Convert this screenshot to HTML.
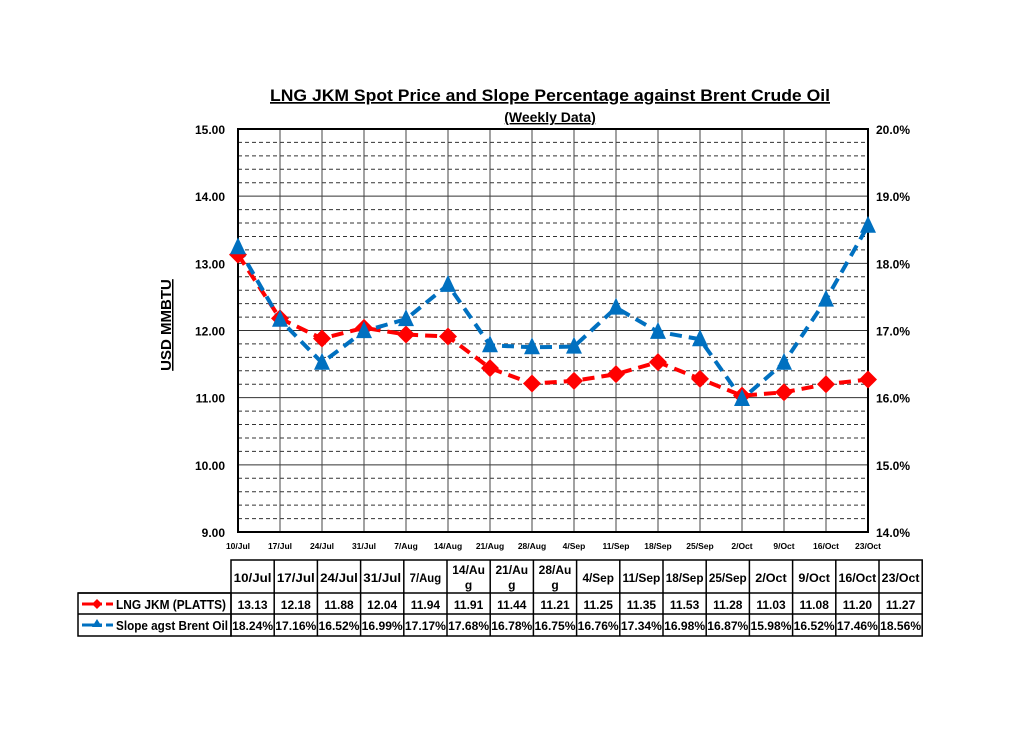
<!DOCTYPE html><html><head><style>body{margin:0;background:#fff}svg text{font-family:"Liberation Sans",Arial,sans-serif;font-weight:bold}</style></head><body>
<svg width="1024" height="724" xmlns="http://www.w3.org/2000/svg">
<text x="550" y="101" font-size="17" text-anchor="middle" text-decoration="underline" textLength="560" lengthAdjust="spacingAndGlyphs">LNG JKM Spot Price and Slope Percentage against Brent Crude Oil</text>
<text x="550" y="122" font-size="14" text-anchor="middle" text-decoration="underline">(Weekly Data)</text>
<text transform="translate(171,325) rotate(-90)" font-size="15" text-anchor="middle" text-decoration="underline">USD MMBTU</text>
</svg>
<script>
const s=document.querySelector('svg'),NS='http://www.w3.org/2000/svg';
function el(t,a,txt){const e=document.createElementNS(NS,t);for(const k in a)e.setAttribute(k,a[k]);if(txt!=null)e.textContent=txt;s.appendChild(e);return e;}
const L=238,R=868,T=129,B=532,dx=42;
const yP=v=>B-(v-9)*(B-T)/6, yS=v=>B-(v-14)*(B-T)/6;
for(let i=1;i<30;i++){if(i%5==0)continue;const y=T+i*(B-T)/30;el('line',{x1:L,x2:R,y1:y,y2:y,stroke:'#333','stroke-width':1,'stroke-dasharray':'4,3'});}
for(let i=1;i<6;i++){const y=T+i*(B-T)/6;el('line',{x1:L,x2:R,y1:y,y2:y,stroke:'#333','stroke-width':1});}
for(let i=1;i<15;i++){const x=L+i*dx;el('line',{x1:x,x2:x,y1:T,y2:B,stroke:'#444','stroke-width':1});}
el('rect',{x:L,y:T,width:R-L,height:B-T,fill:'none',stroke:'#000','stroke-width':2});
for(let i=0;i<=6;i++){const y=T+i*(B-T)/6;el('text',{x:225,y:y+5,'font-size':12,'text-anchor':'end'},(15-i).toFixed(2));el('text',{x:876,y:y+5,'font-size':12},(20-i).toFixed(1)+'%');}
const d=['10/Jul','17/Jul','24/Jul','31/Jul','7/Aug','14/Aug','21/Aug','28/Aug','4/Sep','11/Sep','18/Sep','25/Sep','2/Oct','9/Oct','16/Oct','23/Oct'];
const p=[13.13,12.18,11.88,12.04,11.94,11.91,11.44,11.21,11.25,11.35,11.53,11.28,11.03,11.08,11.20,11.27];
const q=[18.24,17.16,16.52,16.99,17.17,17.68,16.78,16.75,16.76,17.34,16.98,16.87,15.98,16.52,17.46,18.56];
d.forEach((t,i)=>el('text',{x:L+i*dx,y:549,'font-size':8.5,'text-anchor':'middle'},t));
el('polyline',{points:p.map((v,i)=>(L+i*dx)+','+yP(v)).join(' '),fill:'none',stroke:'#f00','stroke-width':4,'stroke-dasharray':'12,7'});
el('polyline',{points:q.map((v,i)=>(L+i*dx)+','+yS(v)).join(' '),fill:'none',stroke:'#0070c0','stroke-width':4,'stroke-dasharray':'12,7'});
p.forEach((v,i)=>{const x=L+i*dx,y=yP(v);el('polygon',{points:`${x},${y-9} ${x+9},${y} ${x},${y+9} ${x-9},${y}`,fill:'#f00'});});
q.forEach((v,i)=>{const x=L+i*dx,y=yS(v);el('polygon',{points:`${x},${y-10} ${x+8},${y+7} ${x-8},${y+7}`,fill:'#0070c0'});});
const tx=231,cw=43.2,r0=560,r1=593,r2=614,r3=636;
el('rect',{x:tx,y:r0,width:16*cw,height:r3-r0,fill:'none',stroke:'#000','stroke-width':1.5});
el('rect',{x:78,y:r1,width:tx-78,height:r3-r1,fill:'none',stroke:'#000','stroke-width':1.5});
[r1,r2].forEach(y=>el('line',{x1:78,x2:tx+16*cw,y1:y,y2:y,stroke:'#000','stroke-width':1.5}));
for(let i=1;i<16;i++)el('line',{x1:tx+i*cw,x2:tx+i*cw,y1:r0,y2:r3,stroke:'#000','stroke-width':1.5});
d.forEach((t,i)=>{const cx=tx+i*cw+cw/2;
 if(t.endsWith('Aug')&&t.length>5){el('text',{x:cx,y:574,'font-size':12,'text-anchor':'middle'},t.slice(0,5));el('text',{x:cx,y:589,'font-size':12,'text-anchor':'middle'},t.slice(5));}
 else el('text',{x:cx,y:582,'font-size':12,'text-anchor':'middle',textLength:Math.min(t.length*6.3,40),lengthAdjust:'spacingAndGlyphs'},t);
 el('text',{x:cx,y:609,'font-size':12,'text-anchor':'middle'},p[i].toFixed(2));
 el('text',{x:cx,y:630,'font-size':12,'text-anchor':'middle',textLength:41,lengthAdjust:'spacingAndGlyphs'},q[i].toFixed(2)+'%');});
el('line',{x1:82,x2:102,y1:604,y2:604,stroke:'#f00','stroke-width':3});el('line',{x1:106,x2:113,y1:604,y2:604,stroke:'#f00','stroke-width':3});
el('polygon',{points:'97,599 102,604 97,609 92,604',fill:'#f00'});
el('line',{x1:82,x2:102,y1:625,y2:625,stroke:'#0070c0','stroke-width':3});el('line',{x1:106,x2:113,y1:625,y2:625,stroke:'#0070c0','stroke-width':3});
el('polygon',{points:'97,619 102,627 92,627',fill:'#0070c0'});
el('text',{x:116,y:609,'font-size':12.5,textLength:110,lengthAdjust:'spacingAndGlyphs'},'LNG JKM (PLATTS)');
el('text',{x:116,y:630,'font-size':12.5,textLength:112,lengthAdjust:'spacingAndGlyphs'},'Slope agst Brent Oil');
</script></body></html>
